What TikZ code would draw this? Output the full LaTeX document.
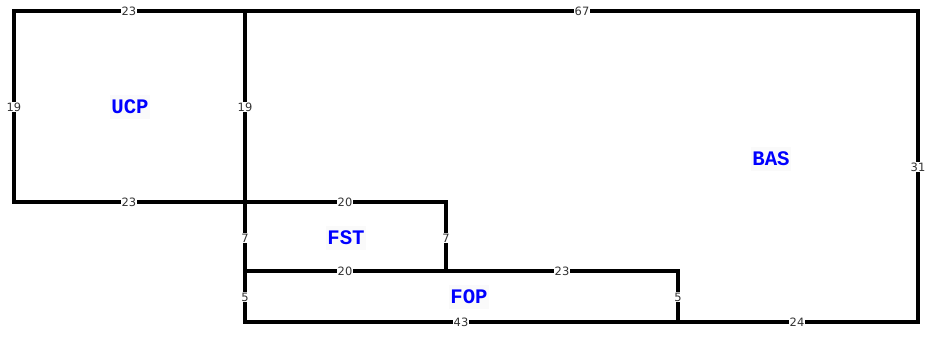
\documentclass[tikz,border=0pt]{standalone}
\usepackage{fontspec}
\newfontfamily\dimfont{DejaVu Sans}
\newfontfamily\regfont{Liberation Mono}
\begin{document}
\begin{tikzpicture}[x=0.75pt,y=-0.75pt,
  wall/.style={line width=2.3pt,line join=miter,line cap=rect},
  dim/.style={font=\dimfont\fontsize{8.6}{10}\selectfont,text=black!80,fill=white,inner sep=0.6pt},
  region/.style={font=\regfont\bfseries\fontsize{15.5}{17}\selectfont,text=blue,fill=black!2,inner xsep=0.8pt,inner ysep=4pt}]
\useasboundingbox (0,0) rectangle (931,336);
\coordinate (tl) at (14,11);
\coordinate (tm) at (245,11);
\coordinate (tr) at (918,11);
\coordinate (ml) at (14,202);
\coordinate (mm) at (245,202);
\coordinate (fstr) at (446,202);
\coordinate (fstb) at (446,271);
\coordinate (fopl) at (245,271);
\coordinate (fopr) at (678,271);
\coordinate (bl) at (245,322);
\coordinate (bm) at (678,322);
\coordinate (br) at (918,322);
% walls
\draw[wall] (ml) -- (tl) -- (tr) -- (br) -- (bl) -- (tm);
\draw[wall] (ml) -- (mm) -- (fstr) -- (fstb);
\draw[wall] (fopl) -- (fopr) -- (bm);
% dimension labels
\node[dim] (d1) at (129,11) {23};
\node[dim] (d2) at (582,11) {67};
\node[dim] (d3) at (14,107) {19};
\node[dim] (d4) at (245,107) {19};
\node[dim] (d5) at (129,202) {23};
\node[dim] (d6) at (345,202) {20};
\node[dim] (d7) at (245,238) {7};
\node[dim] (d8) at (446,238) {7};
\node[dim] (d9) at (345,271) {20};
\node[dim] (d10) at (562,271) {23};
\node[dim] (d11) at (245,297) {5};
\node[dim] (d12) at (678,297) {5};
\node[dim] (d13) at (461,322) {43};
\node[dim] (d14) at (797,322) {24};
\node[dim] (d15) at (918,167) {31};
% region labels
\node[region] (ucp) at (130,107) {UCP};
\node[region] (fst) at (346,238) {FST};
\node[region] (fop) at (469,297) {FOP};
\node[region] (bas) at (771,159) {BAS};
\end{tikzpicture}
\end{document}
